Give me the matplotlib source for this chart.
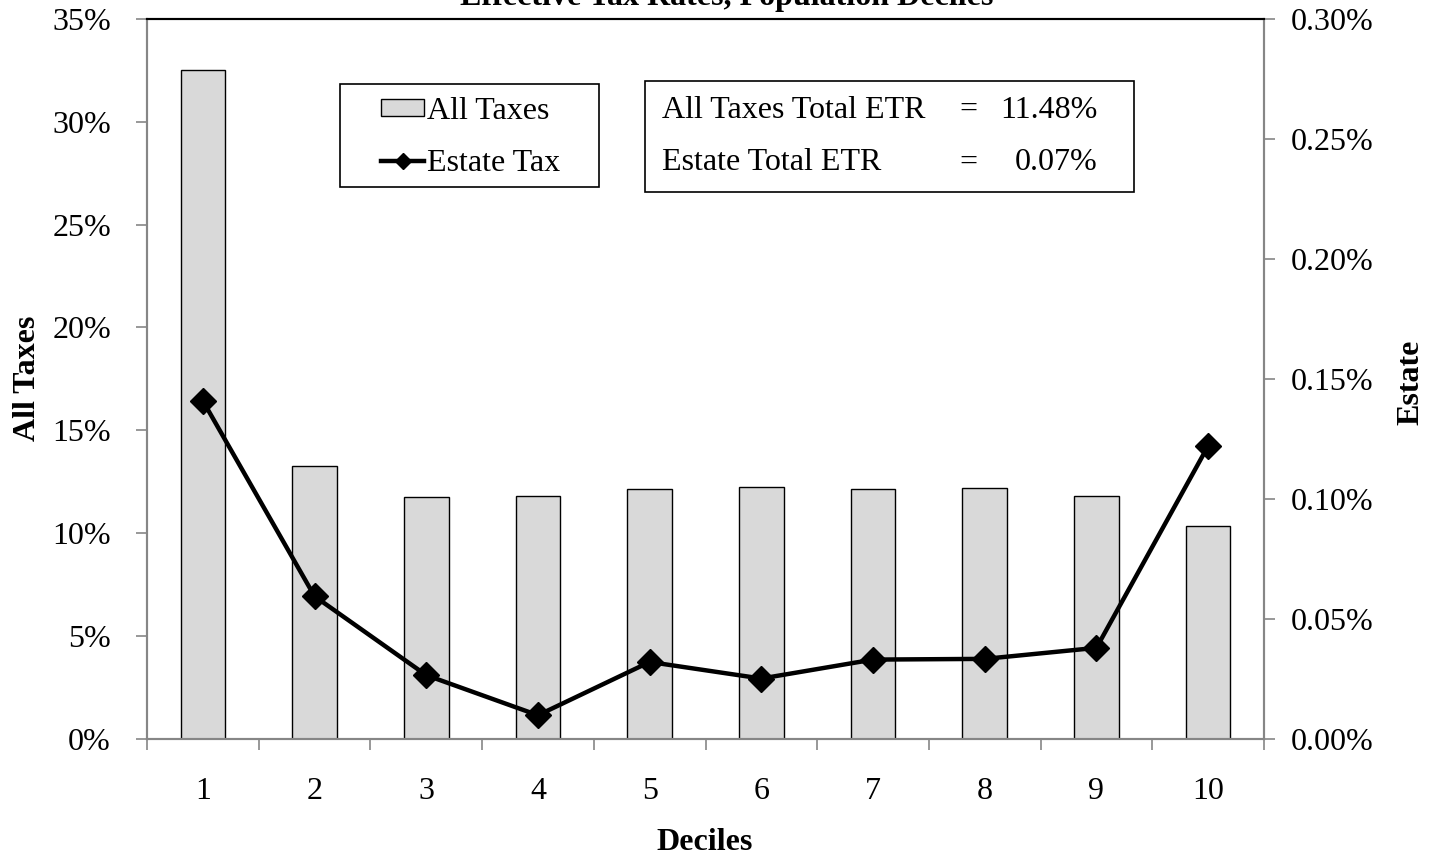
import numpy as np
import matplotlib
matplotlib.use("Agg")
import matplotlib.pyplot as plt
from matplotlib.patches import Rectangle
from matplotlib.ticker import FuncFormatter

# effective tax rates by population decile
deciles = [1, 2, 3, 4, 5, 6, 7, 8, 9, 10]
all_taxes = [32.52, 13.25, 11.73, 11.79, 12.12, 12.24, 12.12, 12.18, 11.79, 10.35]   # % left axis
estate = [0.1408, 0.0593, 0.0264, 0.0097, 0.0319, 0.0250, 0.0329, 0.0332, 0.0378, 0.1220]  # % right axis
total_all = "11.48%"
total_estate = "0.07%"

plt.rcParams['font.family'] = ['Liberation Serif', 'DejaVu Serif']
FS = 23
W, H = 1442, 859
grey = '#868686'


def fx(px):
    return px / W


def fy(py):
    return 1 - py / H


fig = plt.figure(figsize=(W / 100, H / 100), dpi=100)
ax = fig.add_axes([fx(147), fy(738.5), fx(1264) - fx(147), fy(19) - fy(738.5)])
ax2 = ax.twinx()

x = np.arange(len(deciles))
bars = ax.bar(x, all_taxes, width=0.4, color='#D9D9D9', edgecolor='black',
              linewidth=1.0, label='All Taxes', zorder=2)
line, = ax2.plot(x, estate, color='black', lw=3.2, marker='D', markersize=13,
                 label='Estate Tax', zorder=3)

ax.set_xlim(-0.5, len(deciles) - 0.5)
ax.set_ylim(0, 35)
ax2.set_ylim(0, 0.30)
ax.set_yticks(np.arange(0, 36, 5))
ax2.set_yticks(np.arange(0, 0.31, 0.05))
ax.yaxis.set_major_formatter(FuncFormatter(lambda v, p: f"{v:.0f}%"))
ax2.yaxis.set_major_formatter(FuncFormatter(lambda v, p: f"{v:.2f}%"))

ax.set_xticks(x)
ax.set_xticklabels([str(d) for d in deciles])
ax.set_xticks(np.arange(-0.5, len(deciles)), minor=True)
ax.tick_params(axis='x', which='major', length=0, pad=28, labelsize=FS)
ax.tick_params(axis='x', which='minor', length=8, width=1.2, color=grey, direction='out')
ax.tick_params(axis='y', length=8, width=1.2, color=grey, pad=18, labelsize=FS)
ax2.tick_params(axis='y', length=8, width=1.2, color=grey, pad=11, labelsize=FS)

for a in (ax, ax2):
    for s in ('left', 'right', 'bottom'):
        a.spines[s].set_color(grey)
        a.spines[s].set_linewidth(1.5)
    a.spines['top'].set_color('black')
    a.spines['top'].set_linewidth(1.5)

# titles / labels
fig.text(fx(727), fy(5), "Effective Tax Rates, Population Deciles", ha='center',
         va='baseline', fontsize=FS, fontweight='bold')
fig.text(fx(28), fy(378), "All Taxes", rotation=90, ha='center', va='center',
         fontsize=FS, fontweight='bold')
fig.text(fx(1411), fy(382), "Estate", rotation=90, ha='center', va='center',
         fontsize=FS, fontweight='bold')
fig.text(fx(705), fy(843), "Deciles", ha='center', va='center',
         fontsize=FS, fontweight='bold')

# legend with a plain box around it
fig.add_artist(Rectangle((fx(340), fy(187)), fx(599) - fx(340), fy(84) - fy(187),
                         transform=fig.transFigure, fill=False, edgecolor='black', lw=1.2))
fig.legend([bars, line], ['All Taxes', 'Estate Tax'], loc='upper left',
           bbox_to_anchor=(fx(381), fy(97)), frameon=False, fontsize=FS,
           borderpad=0, borderaxespad=0, handlelength=1.35, handleheight=0.45,
           handletextpad=0.1, labelspacing=0.72, markerscale=0.65)

# totals box
fig.add_artist(Rectangle((fx(645), fy(192)), fx(1134) - fx(645), fy(81) - fy(192),
                         transform=fig.transFigure, fill=False, edgecolor='black', lw=1.2))
for yy, name, val in [(110, "All Taxes Total ETR", total_all),
                      (163, "Estate Total ETR", total_estate)]:
    fig.text(fx(662), fy(yy), name, ha='left', va='center', fontsize=FS)
    fig.text(fx(968), fy(yy), "=", ha='center', va='center', fontsize=FS)
    fig.text(fx(1098), fy(yy), val, ha='right', va='center', fontsize=FS)

fig.savefig("out.png", dpi=100)
